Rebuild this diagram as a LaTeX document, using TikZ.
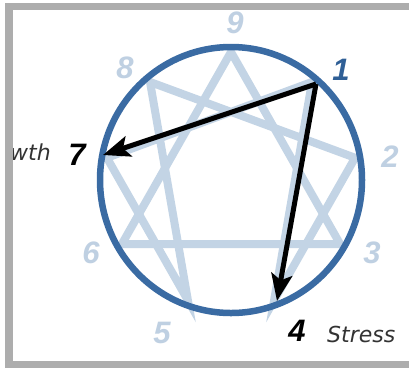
\documentclass[tikz,border=0pt]{standalone}
\usepackage{fontspec}
\setmainfont{Liberation Sans}
\newfontfamily\verd{DejaVu Sans}
\usetikzlibrary{arrows.meta}
\definecolor{framegray}{HTML}{ADADAD}
\definecolor{ringblue}{HTML}{3A6BA3}
\definecolor{starblue}{HTML}{C3D4E5}
\definecolor{lblblue}{HTML}{BFD0E2}
\definecolor{onblue}{HTML}{2F5F96}
\definecolor{txtgray}{HTML}{333333}
\begin{document}
\begin{tikzpicture}[x=1pt,y=-1pt,
  num/.style={font=\fontsize{31}{31}\selectfont\bfseries\itshape, anchor=base, inner sep=0pt, text=lblblue},
  word/.style={font=\verd\fontsize{22}{22}\selectfont\itshape, anchor=base, inner sep=0pt, text=txtgray},
  starline/.style={starblue, line width=8pt, line join=miter},
  ring/.style={ringblue, line width=6.5pt},
  movearrow/.style={black, line width=5pt, -{Stealth[length=27pt,width=21pt,inset=6pt]}},
  bar/.style={fill=framegray, draw=none}]
\useasboundingbox (0,0) rectangle (409,368);
\fill[white] (0,0) rectangle (409,368);
% star points
\foreach \n/\a in {9/90,1/50,2/10,3/-30,4/-70,5/-110,6/-150,7/170,8/130}{
  \coordinate (s\n) at ({231+126*cos(\a)},{180-128*sin(\a)});
}
\draw[starline] (s9) -- (s3) -- (s6) -- cycle;
\draw[starline] (s1) -- (s4) -- (s2) -- (s8) -- (s5) -- (s7) -- cycle;
\node[draw=none, inner sep=0pt] (ringc) at (231,180) {};
\draw[ring] (ringc) ellipse [x radius=131, y radius=133];
% arrows
\coordinate (a1) at (316,84);
\coordinate (a7) at (103,155);
\coordinate (a4) at (277,301);
\draw[movearrow] (a1) -- (a7);
\draw[movearrow] (a1) -- (a4);
% labels
\node[num] (l9) at (235,33) {9};
\node[num, text=onblue] (l1) at (341,80) {1};
\node[num] (l2) at (390,167) {2};
\node[num] (l3) at (372,263) {3};
\node[num, text=black] (l4) at (297,341) {4};
\node[num] (l5) at (162,343) {5};
\node[num] (l6) at (91,263) {6};
\node[num, text=black] (l7) at (77,165) {7};
\node[num] (l8) at (125,78) {8};
\node[word, anchor=base west] (stress) at (327,342) {Stress};
\node[word, anchor=base east] (growth) at (51,160) {wth};
% frame
\fill[bar] (5,3) rectangle (409,10);
\fill[bar] (5,3) rectangle (13,368);
\fill[bar] (5,361) rectangle (409,368);
\end{tikzpicture}
\end{document}
